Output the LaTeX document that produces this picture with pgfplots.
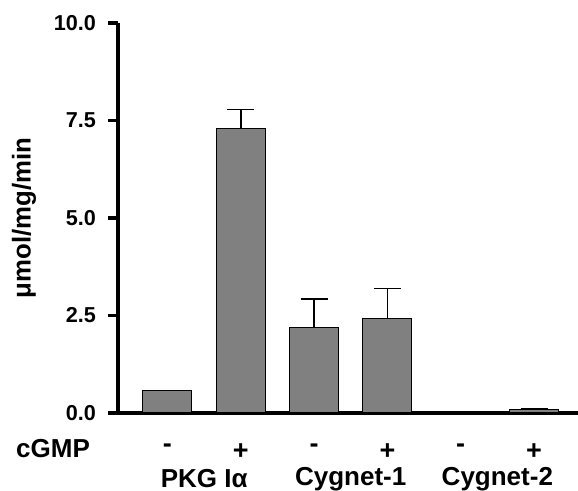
\documentclass[border=0pt]{standalone}
\usepackage{fontspec}
\setmainfont{Liberation Sans}
\usepackage{pgfplots}
\pgfplotsset{compat=1.18}
\definecolor{bargray}{RGB}{128,128,128}
\begin{document}
\begin{tikzpicture}
\begin{axis}[
  scale only axis,
  width=230pt, height=195pt,
  at={(59pt,39pt)}, anchor=south west,
  xmin=-0.675, xmax=5.6,
  ymin=0, ymax=10,
  axis x line=bottom, axis y line=left,
  axis line style={line width=1.6pt, -},
  x axis line style={shorten <=-5pt},
  xtick={0,1,2,3,4,5},
  xticklabels={-,+,-,+,-,+},
  major x tick style={draw=none},
  xticklabel style={font=\fontsize{13.5}{14}\selectfont\bfseries, yshift=-7pt},
  ytick={0,2.5,5,7.5,10},
  yticklabel style={font=\fontsize{10.8}{12}\selectfont\bfseries, xshift=-2.5pt},
  /pgf/number format/assume math mode=true,
  /pgf/number format/.cd, fixed, fixed zerofill, precision=1, /pgfplots/.cd,
  y tick style={line width=1.6pt, black},
  tick align=outside,
  major tick length=5pt,
  clip=false,
]
\addplot[ybar, bar width=24.5pt, fill=bargray, draw=black, line width=0.5pt,
  error bars/.cd, y dir=plus, y explicit,
  error bar style={line width=0.8pt, black},
  error mark options={mark size=6.75pt, line width=0.8pt, rotate=90}]
  coordinates {
  (0,0.58) +- (0,0)
  (1,7.3) +- (0,0.48)
  (2,2.18) +- (0,0.74)
  (3,2.42) +- (0,0.77)
  (4,0.04) +- (0,0)
  (5,0.08) +- (0,0.03)
  };
\node[font=\fontsize{13}{14}\selectfont\bfseries, inner sep=0pt] at (axis cs:0.5,0) [yshift=-33pt] {PKG Iα};
\node[font=\fontsize{13}{14}\selectfont\bfseries, inner sep=0pt] at (axis cs:2.5,0) [yshift=-33pt] {Cygnet-1};
\node[font=\fontsize{13}{14}\selectfont\bfseries, inner sep=0pt] at (axis cs:4.5,0) [yshift=-33pt] {Cygnet-2};
\node[font=\fontsize{13}{14}\selectfont\bfseries] at (axis cs:-0.675,0) [xshift=-32.5pt, yshift=-18pt] {cGMP};
\node[font=\fontsize{12.9}{14}\selectfont\bfseries, xshift=-47pt, rotate=90] at (rel axis cs:0,0.5) {μmol/mg/min};
\end{axis}
\pgfresetboundingbox
\path (0,0) rectangle (289pt,245.5pt);
\end{tikzpicture}
\end{document}
